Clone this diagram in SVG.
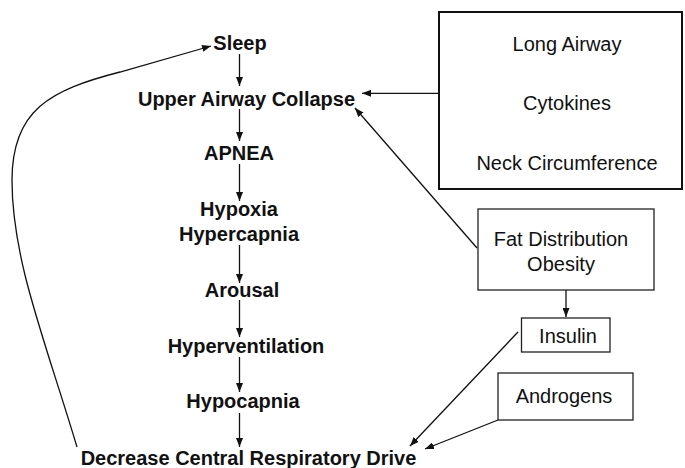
<svg xmlns="http://www.w3.org/2000/svg" width="685" height="468" viewBox="0 0 685 468">
<defs>
<marker id="ah" markerUnits="userSpaceOnUse" markerWidth="9" markerHeight="7" viewBox="0 0 9 7" refX="9" refY="3.5" orient="auto">
<path d="M0,0 L9,3.5 L0,7 z" fill="#111"/>
</marker>
<style>
.b{font-family:"Liberation Sans",Arial,sans-serif;font-weight:bold;font-size:20px;fill:#111;text-anchor:middle}
.r{font-family:"Liberation Sans",Arial,sans-serif;font-size:20px;fill:#111;text-anchor:middle}
.box{fill:#fff;stroke:#222;stroke-width:1.3}
.c{fill:none;stroke:#111;stroke-width:1.3;marker-end:url(#ah)}
</style>
</defs>
<rect width="685" height="468" fill="#fff"/>
<g id="connectors">
<line class="c" x1="239.5" y1="54" x2="239.5" y2="86"/>
<line class="c" x1="239.5" y1="109" x2="239.5" y2="141"/>
<line class="c" x1="239.5" y1="164" x2="239.5" y2="201"/>
<line class="c" x1="239.5" y1="245" x2="239.5" y2="283"/>
<line class="c" x1="239.5" y1="300" x2="239.5" y2="337"/>
<line class="c" x1="239.5" y1="357" x2="239.5" y2="392"/>
<line class="c" x1="239.5" y1="413" x2="239.5" y2="447"/>
<line class="c" x1="439" y1="93.3" x2="362" y2="93.3"/>
<line class="c" x1="477" y1="248" x2="355" y2="108"/>
<line class="c" x1="566" y1="290" x2="566" y2="317"/>
<line class="c" x1="518" y1="332" x2="410" y2="446"/>
<line class="c" x1="498" y1="420" x2="425" y2="449"/>
<path class="c" d="M77,447 C45,340 12,260 12,180 C12,110 50,90 120,72 L211,46"/>
</g>
<g id="sleep"><text class="b" x="240" y="50">Sleep</text></g>
<g id="uac"><text class="b" x="246.5" y="106">Upper Airway Collapse</text></g>
<g id="apnea"><text class="b" x="239" y="160">APNEA</text></g>
<g id="hypoxia"><text class="b" x="239" y="216">Hypoxia</text><text class="b" x="239" y="241">Hypercapnia</text></g>
<g id="arousal"><text class="b" x="242" y="297">Arousal</text></g>
<g id="hyperventilation"><text class="b" x="246" y="353">Hyperventilation</text></g>
<g id="hypocapnia"><text class="b" x="243" y="408">Hypocapnia</text></g>
<g id="decrease"><text class="b" x="248.5" y="465">Decrease Central Respiratory Drive</text></g>
<g id="factors">
<rect x="439" y="12" width="243" height="177" fill="#fff" stroke="#111" stroke-width="2"/>
<text class="r" x="567" y="51">Long Airway</text>
<text class="r" x="567" y="110">Cytokines</text>
<text class="r" x="567" y="170">Neck Circumference</text>
</g>
<g id="fat">
<rect class="box" x="478" y="209" width="176" height="81"/>
<text class="r" x="561" y="246">Fat Distribution</text>
<text class="r" x="561" y="271">Obesity</text>
</g>
<g id="insulin">
<rect class="box" x="521.5" y="318" width="88.5" height="34"/>
<text class="r" x="568" y="343">Insulin</text>
</g>
<g id="androgens">
<rect class="box" x="498" y="373" width="135" height="47"/>
<text class="r" x="564" y="403">Androgens</text>
</g>
</svg>
